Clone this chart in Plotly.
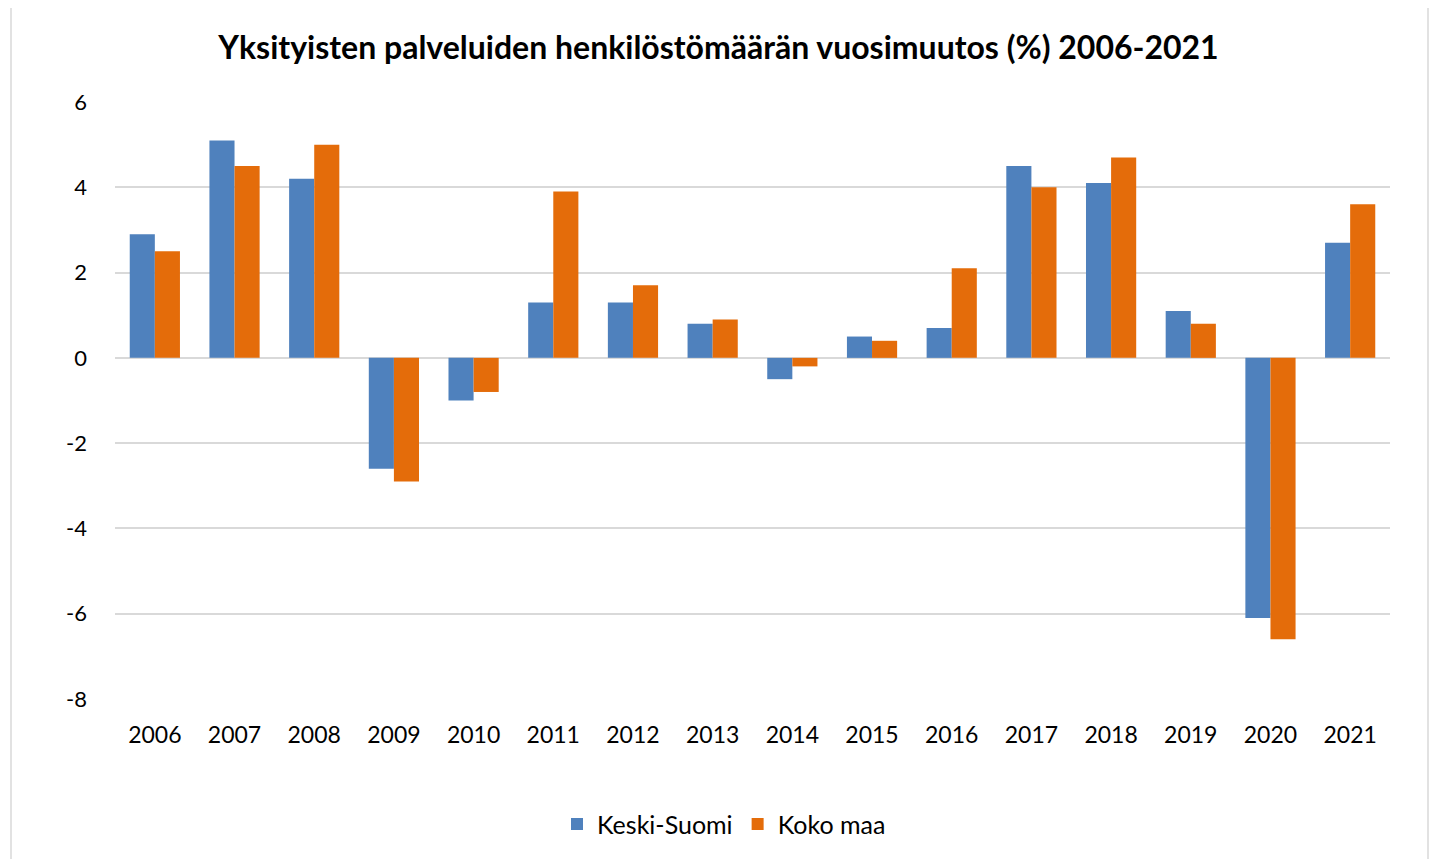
import plotly.graph_objects as go

years = ["2006", "2007", "2008", "2009", "2010", "2011", "2012", "2013",
         "2014", "2015", "2016", "2017", "2018", "2019", "2020", "2021"]
keski_suomi = [2.9, 5.1, 4.2, -2.6, -1.0, 1.3, 1.3, 0.8, -0.5, 0.5, 0.7, 4.5, 4.1, 1.1, -6.1, 2.7]
koko_maa = [2.5, 4.5, 5.0, -2.9, -0.8, 3.9, 1.7, 0.9, -0.2, 0.4, 2.1, 4.0, 4.7, 0.8, -6.6, 3.6]
y_ticks = [6, 4, 2, 0, -2, -4, -6, -8]
y_labels = ["6", "4", "2", "0", "-2", "-4", "-6", "-8"]

FONT = "Lato, 'Open Sans', sans-serif"

fig = go.Figure()
fig.add_trace(go.Bar(x=years, y=keski_suomi, name="Keski-Suomi",
                     marker=dict(color="#4F81BD", line=dict(width=0))))
fig.add_trace(go.Bar(x=years, y=koko_maa, name="Koko maa",
                     marker=dict(color="#E46C0A", line=dict(width=0))))

OFF = 8  # page body margin
W, H = 1437 - 2 * OFF, 867 - 2 * OFF
L, R, T, B = 115 - OFF, 1390 - OFF, 102 - OFF, 702 - OFF


def px(x):
    return (x - OFF - L) / (R - L)


def py(y):
    return (B - (y - OFF)) / (B - T)


border = dict(color="#D9D9D9", width=1.5)
shapes = [
    dict(type="line", xref="paper", yref="paper", x0=px(11), x1=px(11),
         y0=py(870), y1=py(6), line=border, layer="below"),
    dict(type="line", xref="paper", yref="paper", x0=px(1428), x1=px(1428),
         y0=py(870), y1=py(6), line=border, layer="below"),
    dict(type="line", xref="paper", yref="paper", x0=px(11), x1=px(1428),
         y0=py(6), y1=py(6), line=border, layer="below"),
]

fig.update_layout(
    width=W, height=H,
    margin=dict(l=L, r=W - R, t=T, b=H - B, pad=0),
    paper_bgcolor="white", plot_bgcolor="white",
    barmode="group", bargap=0.37, bargroupgap=0,
    font=dict(family=FONT, size=22, color="#000000"),
    title=dict(text="<b>Yksityisten palveluiden henkilöstömäärän vuosimuutos (%) 2006-2021</b>",
               x=0.5, xanchor="center", y=1 - (48 - OFF) / H, yanchor="middle",
               font=dict(family=FONT, size=32, color="#000000")),
    showlegend=True,
    legend=dict(orientation="h", x=px(724), xanchor="center", y=py(828), yanchor="middle",
                font=dict(family=FONT, size=25, color="#000000"),
                itemwidth=30, traceorder="normal"),
    xaxis=dict(showgrid=False, showline=False, ticks="", zeroline=False,
               tickfont=dict(family=FONT, size=23), ticklabelstandoff=20),
    yaxis=dict(range=[-8, 6], tickvals=y_ticks, ticktext=y_labels, showgrid=True,
               gridcolor="#D9D9D9", gridwidth=1.5, zeroline=True, zerolinecolor="#D9D9D9",
               zerolinewidth=1.5, showline=False, ticks="",
               tickfont=dict(family=FONT, size=22), ticklabelstandoff=27),
    shapes=shapes,
)

fig.write_html("out.html")
